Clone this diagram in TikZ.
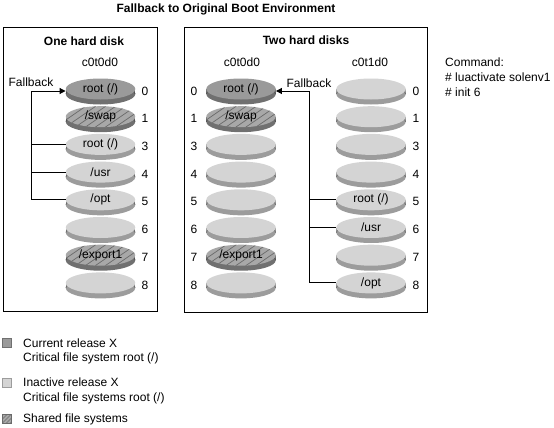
\documentclass[tikz,border=0pt]{standalone}
\usepackage{fontspec}
\setmainfont{Liberation Sans}
\usetikzlibrary{shapes.geometric,arrows.meta}
\definecolor{dtop}{HTML}{9A9A9A}
\definecolor{dside}{HTML}{707070}
\definecolor{dedge}{HTML}{505050}
\definecolor{ltop}{HTML}{D4D4D4}
\definecolor{lside}{HTML}{9C9C9C}
\definecolor{ledge}{HTML}{6A6A6A}
\definecolor{htop}{HTML}{A8A8A8}
\definecolor{hline}{HTML}{6A6A6A}
\tikzset{
 txt/.style={font=\fontsize{12pt}{14pt}\selectfont, inner sep=0pt},
 boldtxt/.style={inner sep=0pt, font=\fontsize{12pt}{14pt}\selectfont\bfseries},
 frame/.style={draw=black, line width=0.9pt},
 disk/.style={ellipse, minimum width=69.5pt, minimum height=21pt, inner sep=0pt, txt},
 hatched/.style={path picture={\foreach \i in {-80,-70,...,80}{\draw[hline, line width=0.7pt] ([shift={(\i-16,11)}]path picture bounding box.center) -- ([shift={(\i+16,-11)}]path picture bounding box.center);}}},
 smallhatch/.style={path picture={\foreach \i in {-12,-8,...,12}{\draw[hline, line width=0.6pt] ([shift={(\i-6,6)}]path picture bounding box.center) -- ([shift={(\i+6,-6)}]path picture bounding box.center);}}},
 cur top/.style={fill=dtop}, cur side/.style={fill=dside}, cur edge/.style={draw=dedge},
 ina top/.style={fill=ltop}, ina side/.style={fill=lside}, ina edge/.style={draw=ledge},
 sha top/.style={fill=htop, hatched}, sha side/.style={fill=dside}, sha edge/.style={draw=dedge},
 conn/.style={draw=black, line width=1pt},
 fbtip/.style={-{Triangle[length=6pt,width=6pt]}},
 legbox/.style={minimum size=9pt, inner sep=0pt, line width=0.6pt},
}
\newcommand\mydisk[5]{%
 \pgfmathsetmacro\dky{89+27.7*#3}%
 \fill[#4 side] (#2-34.75,\dky) rectangle (#2+34.75,\dky+5);%
 \fill[#4 side] (#2,\dky+5) ellipse[x radius=34.75pt, y radius=10.5pt];%
 \draw[#4 edge, line width=0.8pt] (#2-34.5,\dky+5) arc[start angle=180, end angle=360, x radius=34.5pt, y radius=-10.1pt];%
 \node[disk,#4 top] (#1) at (#2,\dky) {#5};%
}
\newcommand\slicenum[4]{%
 \pgfmathsetmacro\sly{91+27.7*#3}%
 \node[txt] (#1) at (#2,\sly) {#4};%
}
\begin{document}
\begin{tikzpicture}[x=1pt,y=-1pt]
\useasboundingbox (0,0) rectangle (554,428);
\fill[white] (0,0) rectangle (554,428);
% title
\node[boldtxt] (title) at (226,9) {Fallback to Original Boot Environment};
% frames
\draw[frame] (3,27) rectangle (157,311);
\draw[frame] (184,27) rectangle (427,312);
\node[boldtxt] (h1) at (84,41) {One hard disk};
\node[boldtxt] (h2) at (306,40) {Two hard disks};
\node[txt] (c1) at (100,62) {c0t0d0};
\node[txt] (c2) at (242,62) {c0t0d0};
\node[txt] (c3) at (370,62) {c0t1d0};
% left disk
\mydisk{La0}{100.5}{0}{cur}{root (/)}
\mydisk{La1}{100.5}{1}{sha}{/swap}
\mydisk{La3}{100.5}{2}{ina}{root (/)}
\mydisk{La4}{100.5}{3}{ina}{/usr}
\mydisk{La5}{100.5}{4}{ina}{/opt}
\mydisk{La6}{100.5}{5}{ina}{}
\mydisk{La7}{100.5}{6}{sha}{/export1}
\mydisk{La8}{100.5}{7}{ina}{}
% middle disk
\mydisk{M0}{241}{0}{cur}{root (/)}
\mydisk{M1}{241}{1}{sha}{/swap}
\mydisk{M3}{241}{2}{ina}{}
\mydisk{M4}{241}{3}{ina}{}
\mydisk{M5}{241}{4}{ina}{}
\mydisk{M6}{241}{5}{ina}{}
\mydisk{M7}{241}{6}{sha}{/export1}
\mydisk{M8}{241}{7}{ina}{}
% right disk
\mydisk{R0}{371}{0}{ina}{}
\mydisk{R1}{371}{1}{ina}{}
\mydisk{R3}{371}{2}{ina}{}
\mydisk{R4}{371}{3}{ina}{}
\mydisk{R5}{371}{4}{ina}{root (/)}
\mydisk{R6}{371}{5}{ina}{/usr}
\mydisk{R7}{371}{6}{ina}{}
\mydisk{R8}{371}{7}{ina}{/opt}
% slice numbers
\slicenum{na0}{145}{0}{0}\slicenum{na1}{145}{1}{1}\slicenum{na3}{145}{2}{3}\slicenum{na4}{145}{3}{4}
\slicenum{na5}{145}{4}{5}\slicenum{na6}{145}{5}{6}\slicenum{na7}{145}{6}{7}\slicenum{na8}{145}{7}{8}
\slicenum{nm0}{194}{0}{0}\slicenum{nm1}{194}{1}{1}\slicenum{nm3}{194}{2}{3}\slicenum{nm4}{194}{3}{4}
\slicenum{nm5}{194}{4}{5}\slicenum{nm6}{194}{5}{6}\slicenum{nm7}{194}{6}{7}\slicenum{nm8}{194}{7}{8}
\slicenum{nr0}{416}{0}{0}\slicenum{nr1}{416}{1}{1}\slicenum{nr3}{416}{2}{3}\slicenum{nr4}{416}{3}{4}
\slicenum{nr5}{416}{4}{5}\slicenum{nr6}{416}{5}{6}\slicenum{nr7}{416}{6}{7}\slicenum{nr8}{416}{7}{8}
% fallback connectors left
\node[txt] (fbLt) at (31,82) {Fallback};
\coordinate (fbL) at (31,91);
\draw[conn,fbtip] (fbL) -- (La0.west |- fbL);
\draw[conn] (fbL) |- (La5.west);
\draw[conn] (La3.west -| fbL) -- (La3.west);
\draw[conn] (La4.west -| fbL) -- (La4.west);
% fallback connectors right
\node[txt] (fbRt) at (309,83) {Fallback};
\coordinate (fbR) at (309,91);
\draw[conn,fbtip] (fbR) -- (M0.east |- fbR);
\draw[conn] (fbR) |- (R8.west);
\draw[conn] (R5.west -| fbR) -- (R5.west);
\draw[conn] (R6.west -| fbR) -- (R6.west);
% command
\node[txt,anchor=west] (cmd1) at (445,62) {Command:};
\node[txt,anchor=west] (cmd2) at (445,77) {\# luactivate solenv1};
\node[txt,anchor=west] (cmd3) at (445,92) {\# init 6};
% legend
\node[legbox, fill=dtop, draw=dside] (lg1) at (6.5,342.5) {};
\node[txt,anchor=west] (lt1a) at (23,343) {Current release X};
\node[txt,anchor=west] (lt1b) at (23,358) {Critical file system root (/)};
\node[legbox, fill=ltop, draw=lside] (lg2) at (6.5,383) {};
\node[txt,anchor=west] (lt2a) at (23,382) {Inactive release X};
\node[txt,anchor=west] (lt2b) at (23,398) {Critical file systems root (/)};
\node[legbox, fill=htop, draw=hline, smallhatch] (lg3) at (6.5,419) {};
\node[txt,anchor=west] (lt3) at (23,419) {Shared file systems};
\end{tikzpicture}
\end{document}
